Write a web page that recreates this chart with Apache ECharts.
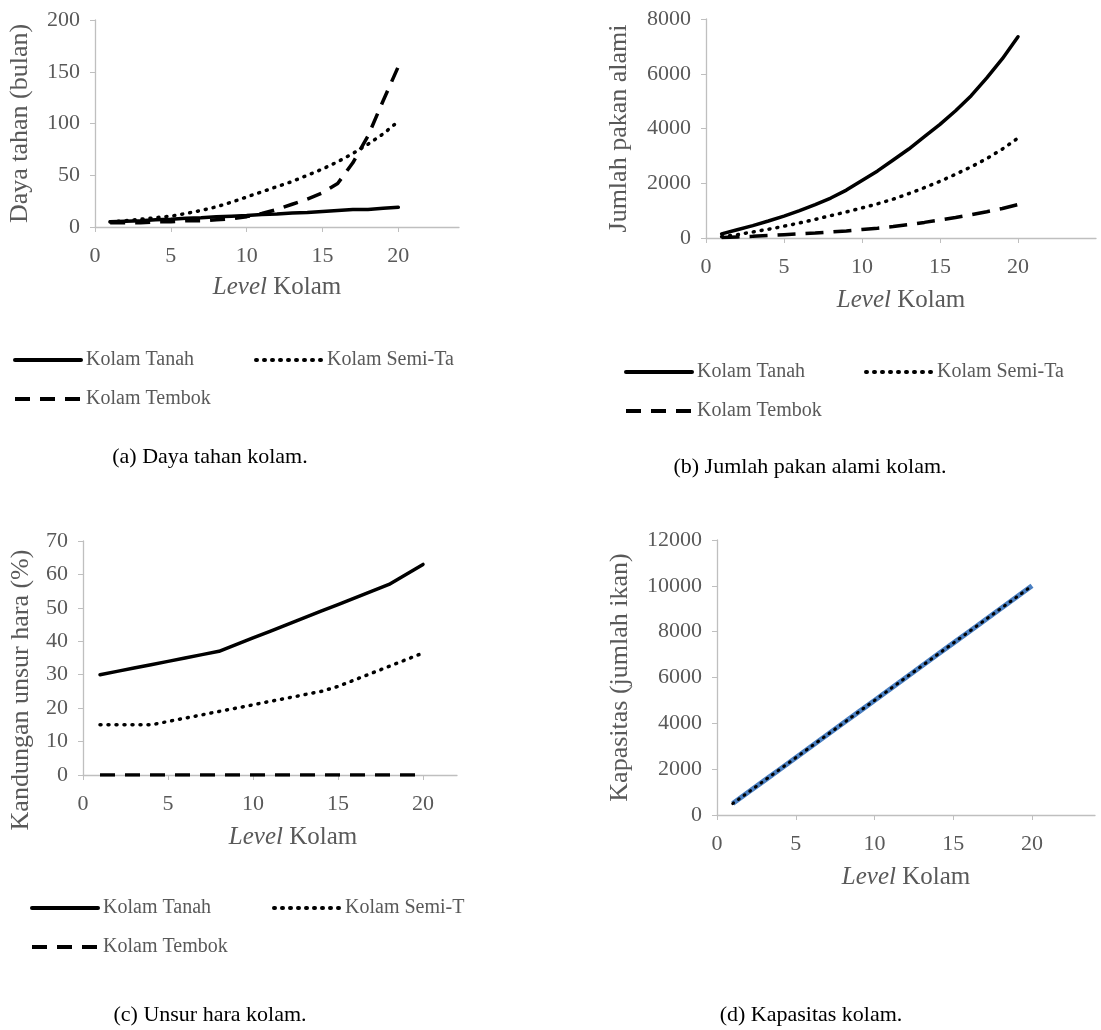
<!DOCTYPE html>
<html>
<head>
<meta charset="utf-8">
<script src="https://cdn.jsdelivr.net/npm/echarts@6/dist/echarts.min.js"></script>
<style>
html,body{margin:0;padding:0;background:#fff;}
#chart{width:1101px;height:1030px;}
</style>
</head>
<body>
<div id="chart"></div>
<script>
// level kolam 1..20
const levels=[1,2,3,4,5,6,7,8,9,10,11,12,13,14,15,16,17,18,19,20];
const xTicks=[0,5,10,15,20];

// (a) daya tahan (bulan)
const dayaTanah=[5,5.5,6,7,7.5,8.5,9,10,10.5,11,12,12.5,13.5,14,15,16,17,17,18,19];
const dayaSemi=[5,6,7.5,9,10.5,13,16,19.5,24,29,34,39,44,50,56,63,71,80,90,102];
const dayaTembok=[4,4,4,5,5,6,6,7,8,10,13,17,22,27,33,42,62,88,122,155];

// (b) jumlah pakan alami
const pakanTanah=[150,300,450,620,800,1000,1220,1460,1750,2100,2450,2850,3250,3700,4150,4650,5200,5850,6550,7350];
const pakanSemi=[50,120,220,320,430,550,680,820,950,1100,1250,1420,1620,1840,2070,2330,2600,2900,3250,3650];
const pakanTembok=[20,40,60,90,120,150,180,220,260,310,360,420,490,570,660,750,850,960,1080,1220];

// (c) kandungan unsur hara (%)
const haraTanah=[30,31,32,33,34,35,36,37,39,41,43,45,47,49,51,53,55,57,60,63];
const haraSemi=[15,15,15,15,16,17,18,19,20,21,22,23,24,25,26.5,28.5,30.5,32.5,34.5,36.5];
const haraTembok=[0,0,0,0,0,0,0,0,0,0,0,0,0,0,0,0,0,0,0,0];

// (d) kapasitas (jumlah ikan)
const kapasitas=[500,1000,1500,2000,2500,3000,3500,4000,4500,5000,5500,6000,6500,7000,7500,8000,8500,9000,9500,10000];

const FONT='"Liberation Serif","Times New Roman",serif';
const GREY='#595959';
const AXIS='#bfbfbf';

const pairs=ys=>levels.map((x,i)=>[x,ys[i]]);

const solidStyle={type:'solid',width:3.5,color:'#000',cap:'round'};
const dotStyle={type:[1,7],width:3.5,color:'#000',cap:'round'};
const dashStyle={type:[15,10],width:3.5,color:'#000'};

function line(name,idx,ys,style){
    return {
        name:name,type:'line',xAxisIndex:idx,yAxisIndex:idx,
        data:pairs(ys),symbol:'none',showSymbol:false,
        lineStyle:style,itemStyle:{color:style.color},
        silent:true
    };
}

const grids=[
    {left:95,top:20,width:364,height:207},
    {left:706,top:19,width:390,height:219},
    {left:83,top:541,width:374,height:234},
    {left:717,top:540,width:378,height:275}
];

function xAxis(idx,max,gap,shift){
    return {
        gridIndex:idx,type:'value',min:0,max:max,interval:5,
        axisLine:{show:true,onZero:false,lineStyle:{color:AXIS,width:1.3}},
        axisTick:{show:true,length:5,customValues:xTicks,lineStyle:{color:AXIS}},
        splitLine:{show:false},
        axisLabel:{customValues:xTicks,margin:18,color:GREY,fontSize:22,fontFamily:FONT,formatter:v=>String(v)},
        name:'{i|Level} Kolam',nameLocation:'middle',nameGap:gap,
        nameTextStyle:{color:GREY,fontSize:25,fontFamily:FONT,padding:[0,0,0,shift||0],
            rich:{i:{fontStyle:'italic',color:GREY,fontSize:25,fontFamily:FONT}}}
    };
}

function yAxis(idx,max,interval,name,gap,pad){
    return {
        gridIndex:idx,type:'value',min:0,max:max,interval:interval,
        axisLine:{show:true,lineStyle:{color:AXIS,width:1.3}},
        axisTick:{show:true,length:5,lineStyle:{color:AXIS}},
        splitLine:{show:false},
        axisLabel:{margin:15,color:GREY,fontSize:22,fontFamily:FONT,formatter:v=>String(v)},
        name:name,nameLocation:'middle',nameGap:gap,
        nameTextStyle:{color:GREY,fontSize:26,fontFamily:FONT,padding:pad||0}
    };
}

function legend(left,top,items){
    return {
        left:left,top:top,orient:'horizontal',padding:0,
        itemWidth:66,itemHeight:14,itemGap:20,
        selectedMode:false,
        itemStyle:{opacity:0},
        lineStyle:{width:4},
        textStyle:{color:GREY,fontSize:20,fontFamily:FONT,lineHeight:22},
        data:items
    };
}
const cut=w=>({width:w,overflow:'truncate',ellipsis:''});

function caption(text,x,y){
    return {type:'text',x:x,y:y,silent:true,
        style:{text:text,fill:'#000',fontSize:22,fontFamily:FONT,align:'center',verticalAlign:'middle'}};
}

const option={
    animation:false,
    backgroundColor:'#fff',
    grid:grids,
    xAxis:[xAxis(0,24,48),xAxis(1,25,50),xAxis(2,22,50,46),xAxis(3,24,50)],
    yAxis:[
        yAxis(0,200,50,'Daya tahan (bulan)',62),
        yAxis(1,8000,2000,'Jumlah pakan alami',74),
        yAxis(2,70,10,'Kandungan unsur hara (%)',49,[0,64,0,0]),
        yAxis(3,12000,2000,'Kapasitas (jumlah ikan)',84)
    ],
    legend:[
        legend(13,349,[{name:'Kolam Tanah',textStyle:{width:148}},{name:'Kolam Semi-Tanah',textStyle:cut(137)}]),
        legend(13,388,[{name:'Kolam Tembok'}]),
        legend(624,361,[{name:'Kolam Tanah',textStyle:{width:147}},{name:'Kolam Semi-Tanah',textStyle:cut(132)}]),
        legend(624,400,[{name:'Kolam Tembok'}]),
        legend(30,897,[{name:'Kolam Tanah',textStyle:{width:149}},{name:'Kolam Semi-Tanah',textStyle:cut(121)}]),
        legend(30,936,[{name:'Kolam Tembok'}])
    ],
    series:[
        line('Kolam Tanah',0,dayaTanah,solidStyle),
        line('Kolam Semi-Tanah',0,dayaSemi,dotStyle),
        line('Kolam Tembok',0,dayaTembok,dashStyle),
        line('Kolam Tanah',1,pakanTanah,solidStyle),
        line('Kolam Semi-Tanah',1,pakanSemi,dotStyle),
        line('Kolam Tembok',1,pakanTembok,{type:[18,10],width:3.5,color:'#000'}),
        line('Kolam Tanah',2,haraTanah,solidStyle),
        line('Kolam Semi-Tanah',2,haraSemi,dotStyle),
        line('Kolam Tembok',2,haraTembok,dashStyle),
        line('Kapasitas',3,kapasitas,{type:'solid',width:5,color:'#4a7fc1'}),
        line('Kapasitas titik',3,kapasitas,{type:[1,6],width:3,color:'#000',cap:'round'})
    ],
    graphic:[
        caption('(a) Daya tahan kolam.',210,457),
        caption('(b) Jumlah pakan alami kolam.',810,467),
        caption('(c) Unsur hara kolam.',210,1015),
        caption('(d) Kapasitas kolam.',811,1015)
    ]
};

const chart=echarts.init(document.getElementById('chart'));
chart.setOption(option);
</script>
</body>
</html>
